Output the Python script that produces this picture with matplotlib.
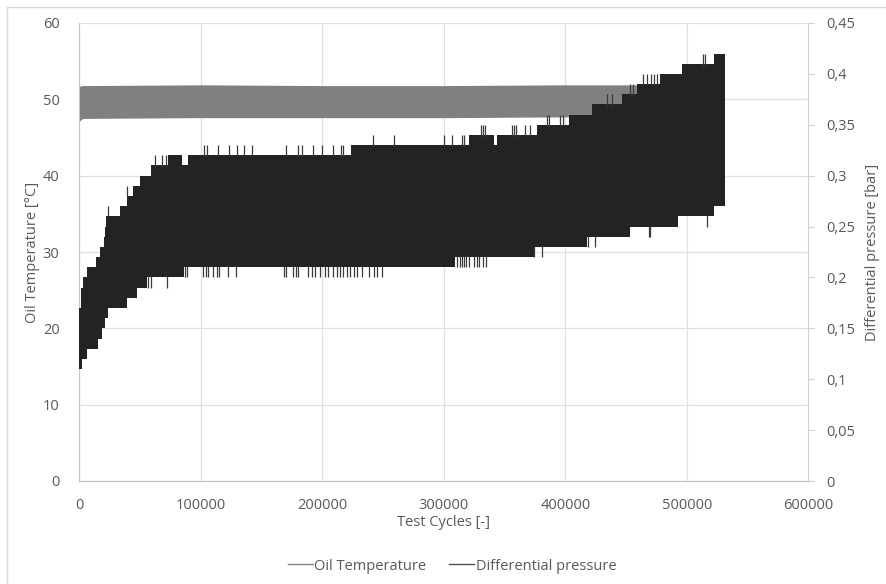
import numpy as np
import matplotlib
matplotlib.use("Agg")
import matplotlib.pyplot as plt
from matplotlib.lines import Line2D

# ---------------- data ----------------
# Differential pressure envelope (bar), step-wise (value holds until next breakpoint)
dp_upper_x = [0, 1500, 3500, 6300, 13700, 17300, 20500, 21200, 22000, 33700, 39200,
              44700, 50200, 59200, 73500, 84500, 89400, 224000, 320400, 341000,
              343800, 376700, 402700, 422000, 446600, 459000, 478000, 496000, 522000]
dp_upper = [0.17, 0.19, 0.20, 0.21, 0.22, 0.23, 0.24, 0.25, 0.26, 0.27, 0.28,
            0.29, 0.30, 0.31, 0.32, 0.31, 0.32, 0.33, 0.34, 0.33,
            0.34, 0.35, 0.36, 0.37, 0.38, 0.39, 0.40, 0.41, 0.42]
dp_lower_x = [0, 2200, 6300, 15900, 18700, 21000, 24100, 39200, 47500, 55700,
              86000, 309500, 374000, 418000, 453500, 493000, 522000]
dp_lower = [0.11, 0.12, 0.13, 0.14, 0.15, 0.16, 0.17, 0.18, 0.19, 0.20,
            0.21, 0.22, 0.23, 0.24, 0.25, 0.26, 0.27]
dp_end = 531000

# isolated glitches above the upper envelope / below the lower envelope
spike_up_x = [24100, 39800, 62500, 68600, 71300,
              102900, 105100, 114700, 123700, 130300, 135300, 142600, 170400, 180500,
              183300, 192800, 199800, 209300, 215400, 217500,
              242000, 258700, 299800, 306700, 315000, 316300,
              330600, 332200, 334200, 356000, 357400, 359700, 367000, 370600,
              385000, 386300, 396000, 398000, 434000, 438000, 453500, 455700,
              464000, 467000, 470500, 472600, 475000, 513000, 515000]
spike_down_x = [57000, 59500, 72000,
                87500, 89100, 102300, 104300, 106400, 110500, 113300, 115200, 122900, 129200,
                168200, 170400, 176400, 178600, 180500, 188700, 191500, 194200, 198400,
                202500, 205200, 209300, 212600, 214800, 217500, 220300, 223000, 225800,
                228600, 232700, 238200, 242300, 245000, 249100,
                310900, 313100, 315000, 316900, 318500, 320400, 325000, 327200, 329400,
                332200, 334900, 374500, 380800, 419000, 424700, 468600, 470000, 516600]
spike_size = 0.01

# Oil temperature band (deg C)
oil_x = [0, 3000, 100000, 200000, 300000, 400000, 530000]
oil_upper = [51.7, 51.8, 51.9, 51.8, 51.8, 51.9, 51.9]
oil_lower = [47.1, 47.5, 47.6, 47.6, 47.6, 47.7, 47.7]

x_ticks = [0, 100000, 200000, 300000, 400000, 500000, 600000]
y_left_ticks = [0, 10, 20, 30, 40, 50, 60]
y_right_ticks = [0, 0.05, 0.10, 0.15, 0.20, 0.25, 0.30, 0.35, 0.40, 0.45]
y_right_labels = ["0", "0,05", "0,1", "0,15", "0,2", "0,25", "0,3", "0,35", "0,4", "0,45"]

# ---------------- style ----------------
plt.rcParams["font.family"] = ["Open Sans", "DejaVu Sans"]
TXT = "#595959"
GRAY = "#808080"
DARK = "#232323"
GRID = "#e0e0e0"
FS = 10.5

fig = plt.figure(figsize=(8.86, 5.84), dpi=100)
ax = fig.add_axes([79 / 886, 1 - 481 / 584, (808.5 - 79) / 886, (481 - 23) / 584])
ax2 = ax.twinx()

# outer chart border (only top & left visible in the crop)
fig.add_artist(Line2D([7 / 886, 1.0], [1 - 7 / 584, 1 - 7 / 584], color="#d9d9d9", lw=1.0))
fig.add_artist(Line2D([7 / 886, 7 / 886], [0.0, 1 - 7 / 584], color="#d9d9d9", lw=1.0))

# oil temperature band
ax.fill_between(oil_x, oil_lower, oil_upper, color=GRAY, linewidth=0, zorder=2)


def step_lookup(xq, xs, vs):
    idx = np.searchsorted(xs, xq, side="right") - 1
    return np.asarray(vs)[np.clip(idx, 0, len(vs) - 1)]


grid = np.union1d(np.union1d(dp_upper_x, dp_lower_x), [dp_end])
up = step_lookup(grid, dp_upper_x, dp_upper)
lo = step_lookup(grid, dp_lower_x, dp_lower)
ax2.fill_between(grid, lo, up, step="post", color=DARK, linewidth=0, zorder=3)

su = np.array(spike_up_x)
ub = step_lookup(su, dp_upper_x, dp_upper)
ax2.vlines(su, ub - 0.001, ub + spike_size, color="#3a3a3a", lw=0.9, zorder=3)
sd = np.array(spike_down_x)
lb = step_lookup(sd, dp_lower_x, dp_lower)
ax2.vlines(sd, lb - spike_size, lb + 0.001, color="#3a3a3a", lw=0.9, zorder=3)

# axes setup
ax.set_xlim(0, 600000)
ax.set_ylim(0, 60)
ax2.set_ylim(0, 0.45)
ax.set_xticks(x_ticks)
ax.set_xticklabels([str(v) for v in x_ticks])
ax.set_yticks(y_left_ticks)
ax.set_yticklabels([str(v) for v in y_left_ticks])
ax2.set_yticks(y_right_ticks)
ax2.set_yticklabels(y_right_labels)

ax.grid(True, color=GRID, lw=0.9, zorder=0)
ax.set_axisbelow(True)

for a in (ax, ax2):
    a.spines["top"].set_visible(False)
ax.spines["right"].set_visible(False)
ax2.spines["left"].set_visible(False)
ax2.spines["bottom"].set_visible(False)
ax.spines["left"].set_color("#c8c8c8")
ax.spines["bottom"].set_color("#bfbfbf")
ax2.spines["right"].set_color("#d0d0d0")

ax.tick_params(axis="both", length=0, labelsize=FS, colors=TXT)
ax.tick_params(axis="y", pad=14)
ax.tick_params(axis="x", pad=12)
ax2.tick_params(axis="y", length=4, direction="out", color="#d0d0d0",
                labelsize=FS, labelcolor=TXT, pad=9)

ax.set_xlabel("Test Cycles [-]", fontsize=FS, color=TXT, labelpad=2)
ax.set_ylabel("Oil Temperature [°C]", fontsize=FS, color=TXT, labelpad=2)
ax2.set_ylabel("Differential pressure [bar]", fontsize=FS, color=TXT, labelpad=7)

handles = [Line2D([], [], color=GRAY, lw=1.0), Line2D([], [], color="#505050", lw=1.0)]
fig.legend(handles, ["Oil Temperature", "Differential pressure"], loc="center",
           bbox_to_anchor=(452 / 886, 1 - 566 / 584), ncol=2, frameon=False,
           fontsize=FS, labelcolor=TXT, handlelength=1.7, handletextpad=0.1,
           columnspacing=1.6)

fig.savefig("out.png", dpi=100)
